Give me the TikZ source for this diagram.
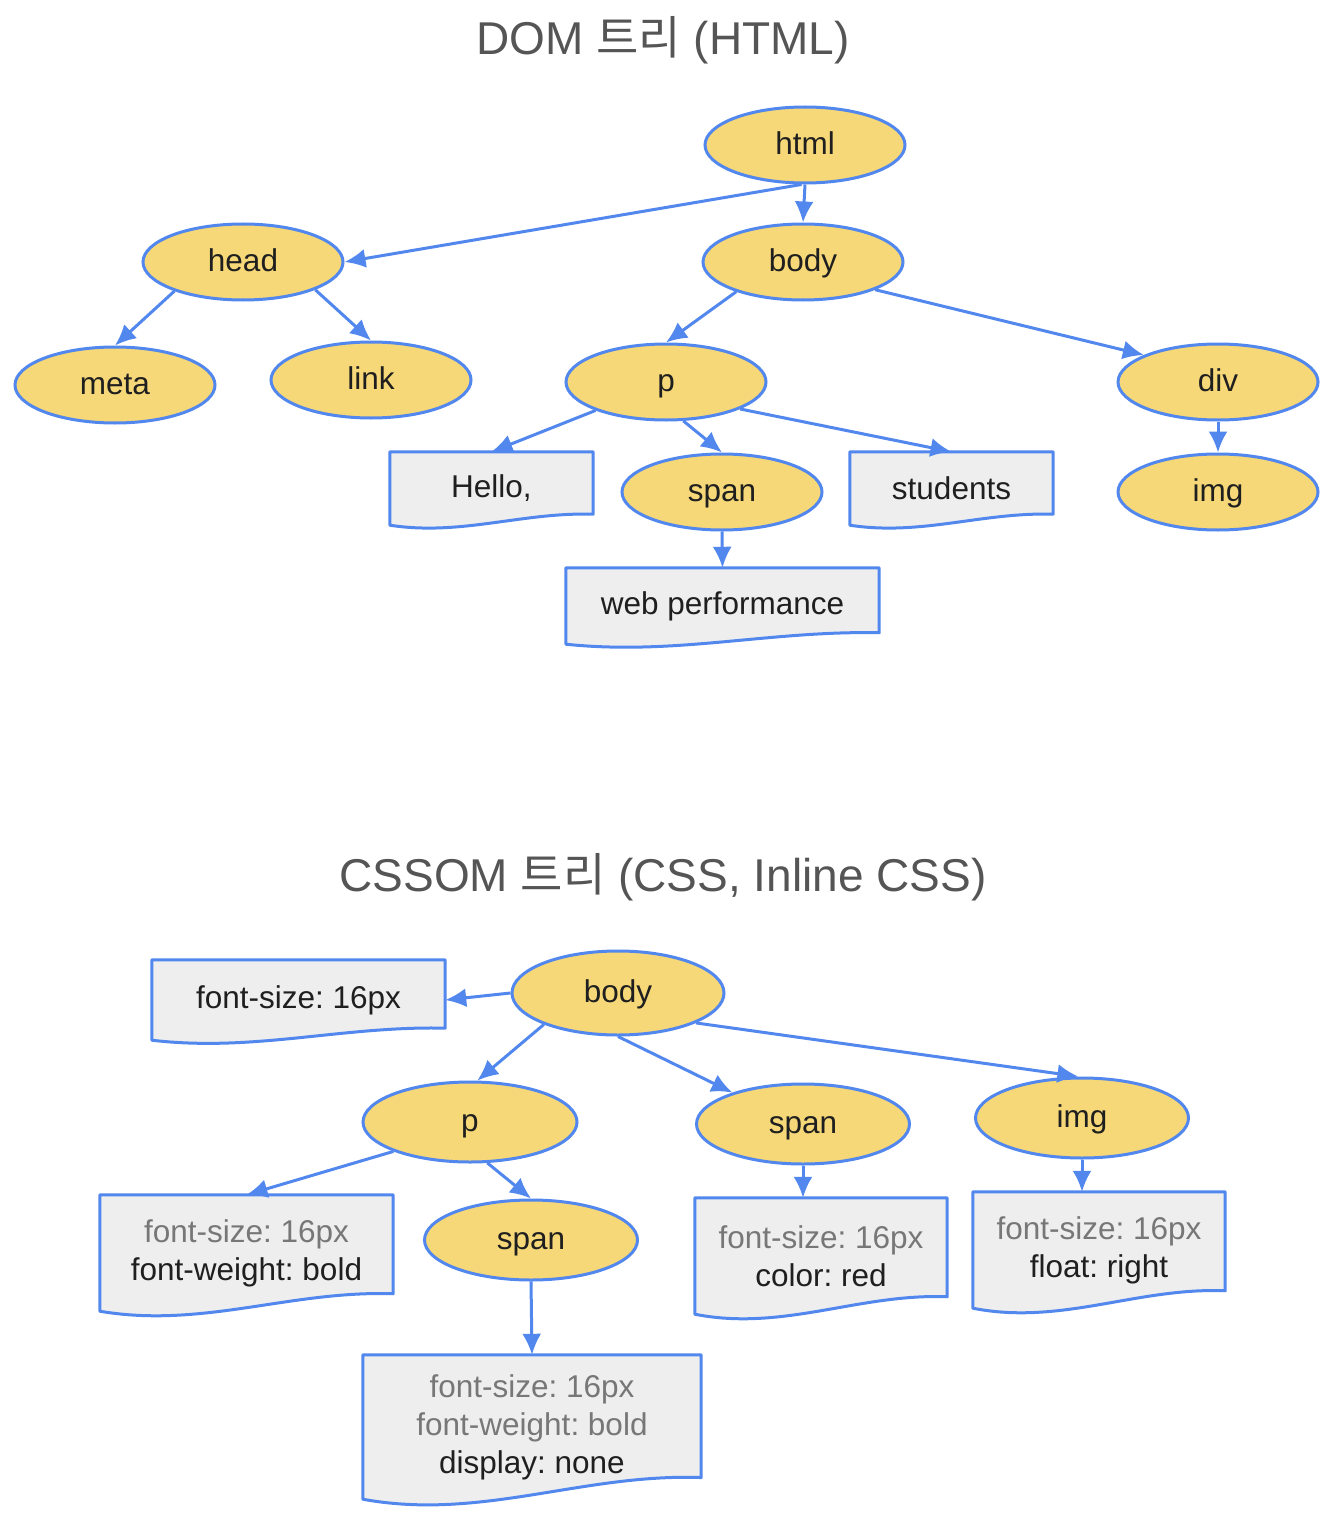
\documentclass[tikz,border=0pt]{standalone}
\usepackage{fontspec}
\setmainfont{Liberation Sans}
\newfontfamily\kofont{Noto Sans CJK KR}
\usetikzlibrary{shapes.geometric,calc,arrows.meta,backgrounds}
\definecolor{nodeyellow}{HTML}{F6D878}
\definecolor{edgeblue}{HTML}{5287EE}
\definecolor{boxgray}{HTML}{EEEEEE}
\definecolor{textgray}{HTML}{777777}
\definecolor{titlegray}{HTML}{555555}
\newcommand{\gr}[1]{\textcolor{textgray}{#1}}
\frenchspacing

\begin{document}
\begin{tikzpicture}
	[   x=1pt,y=-1pt,
	    enode/.style={ellipse,draw=edgeblue,line width=3pt,fill=nodeyellow,inner sep=0pt,
	        minimum width=#1,minimum height=76pt,text=black!88,font=\fontsize{31.5}{36}\selectfont,
	        text height=24pt,text depth=5pt},
	    enode/.default=200pt,
	    docnode/.style={rectangle,inner sep=0pt,minimum width=#1,align=center,
	        text=black!88,font=\fontsize{31.5}{38}\selectfont},
	    docline/.style={draw=edgeblue,line width=3pt,fill=boxgray,line join=round},
	    title/.style={text=titlegray,font=\fontsize{46}{52}\selectfont},
	]
	\tikzset{normal arrow/.style={draw=edgeblue,line width=3pt,-{Latex[length=21pt,width=19pt]}}}
	\useasboundingbox (0,0) rectangle (1330,1530);
	
	% DOM tree
	\node[title] (domtitle) at (663,40) {DOM {\kofont 트리} (HTML)};
	\node[enode] (html) at (805,145) {html};
	\node[enode] (head) at (243,262) {head};
	\node[enode] (body) at (803,262) {body};
	\node[enode] (meta) at (115,385) {meta};
	\node[enode] (link) at (371,380) {link};
	\node[enode] (p) at (666,382) {p};
	\node[enode] (div) at (1218,382) {div};
	\node[enode] (img) at (1218,492) {img};
	\node[enode] (span) at (722,492) {span};
	\node[docnode=203pt,minimum height=73pt] (hello) at (491.5,488.5) {Hello,};
	\node[docnode=203pt,minimum height=73pt] (students) at (951.5,488.5) {students};
	\node[docnode=313pt,minimum height=76pt] (webperf) at (722.5,606) {web performance};
	
	\path[normal arrow] (html.265) -- (head.east);
	\path[normal arrow] (html.south) -- (body.north);
	\path[normal arrow] (head.203) -- (meta.north);
	\path[normal arrow] (head.339) -- (link.north);
	\path[normal arrow] (body.204) -- (p.north);
	\path[normal arrow] (body.339) -- (div.160);
	\path[normal arrow] (p.202) -- (hello.north);
	\path[normal arrow] (p.294) -- (span.north);
	\path[normal arrow] (p.340) -- (students.north);
	\path[normal arrow] (div.south) -- (img.north);
	\path[normal arrow] (span.south) -- (webperf.north);
	
	% CSSOM tree
	\node[title] (csstitle) at (663,877) {CSSOM {\kofont 트리} (CSS, Inline CSS)};
	\node[enode=212pt,minimum height=84pt] (cbody) at (618,993) {body};
	\node[enode=214pt,minimum height=80pt] (cp) at (470,1122) {p};
	\node[enode=213pt,minimum height=80pt] (cspan) at (803,1124) {span};
	\node[enode=213pt,minimum height=80pt] (cimg) at (1082,1118) {img};
	\node[enode=213pt,minimum height=80pt] (cspanp) at (531,1240) {span};
	\node[docnode=293pt,minimum height=80pt] (fsbox) at (298.5,1000) {font-size: 16px};
	\node[docnode=293pt,minimum height=116pt] (pbox) at (246.5,1253)
	    {\gr{font-size: 16px}\\font-weight: bold};
	\node[docnode=252pt,minimum height=116pt] (spanbox) at (821,1256)
	    {\gr{font-size: 16px}\\color: red};
	\node[docnode=252pt,minimum height=116pt] (imgbox) at (1099,1250)
	    {\gr{font-size: 16px}\\float: right};
	\node[docnode=338pt,minimum height=144pt] (spanpbox) at (532,1427)
	    {\gr{font-size: 16px}\\\gr{font-weight: bold}\\display: none};
	
	\path[normal arrow] (cbody.west) -- (fsbox.east);
	\path[normal arrow] (cbody.203) -- (cp.80);
	\path[normal arrow] (cbody.south) -- (cspan.156);
	\path[normal arrow] (cbody.339) -- (cimg.95);
	\path[normal arrow] (cp.201) -- (pbox.north);
	\path[normal arrow] (cp.293) -- (cspanp.north);
	\path[normal arrow] (cspan.south) -- (cspan.south |- spanbox.north);
	\path[normal arrow] (cimg.south) -- (cimg.south |- imgbox.north);
	\path[normal arrow] (cspanp.south) -- (spanpbox.north);
	
	% wavy document outlines
	\begin{pgfonlayer}{background}
	\foreach \b in {hello,students,webperf,fsbox,pbox,spanbox,imgbox,spanpbox}
	{
		\path[docline] let \p1=(\b.north west), \p2=(\b.south east), \n1={0.15*(\y1-\y2)} in
		    (\x1,\y1) -- (\x2,\y1) -- (\x2,\y2+\n1)
		    .. controls ({\x1+0.65*(\x2-\x1)},{\y2+1.2*\n1}) and ({\x1+0.35*(\x2-\x1)},{\y2-1.0*\n1}) ..
		    (\x1,\y2) -- cycle;
	}
	\end{pgfonlayer}
\end{tikzpicture}
\end{document}
